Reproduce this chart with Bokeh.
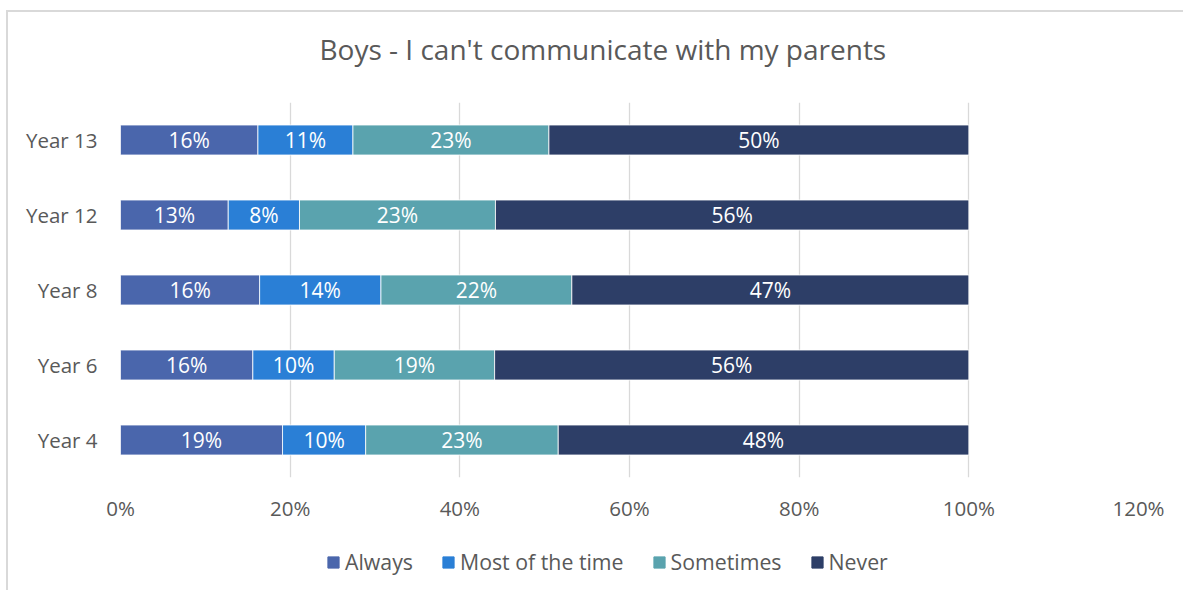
from bokeh.plotting import figure
from bokeh.layouts import column
from bokeh.models import (ColumnDataSource, FactorRange, Range1d, FixedTicker,
                          PrintfTickFormatter, Legend, LegendItem, Title)
from bokeh.core.properties import value
from bokeh.embed import file_html
from bokeh.resources import INLINE

# ---- data ----
title_text = "Boys - I can't communicate with my parents"
years = ["Year 4", "Year 6", "Year 8", "Year 12", "Year 13"]
series = ["Always", "Most of the time", "Sometimes", "Never"]
always = [19.1, 15.6, 16.4, 12.7, 16.2]
most = [9.8, 9.6, 14.3, 8.4, 11.2]
sometimes = [22.7, 18.9, 22.5, 23.1, 23.1]
never = [48.4, 55.9, 46.8, 55.8, 49.5]
x_ticks = [0, 20, 40, 60, 80, 100, 120]
colors = ["#4A66AC", "#2A7FD6", "#5AA3AE", "#2D3E67"]

FONT = "Open Sans"
GRAY = "#595959"
BORDER = "#D9D9D9"

keys = ["always", "most", "sometimes", "never"]
src = ColumnDataSource(dict(year=years, always=always, most=most,
                            sometimes=sometimes, never=never))

# ---------------- main chart ----------------
p = figure(width=1177, height=524, output_backend="svg", toolbar_location=None,
           y_range=FactorRange(*years), x_range=Range1d(0, 120),
           min_border_left=112, min_border_right=47, min_border_top=90,
           min_border_bottom=59)

renderers = p.hbar_stack(keys, y="year", height=0.4, color=colors,
                         line_color="white", line_width=0.8, source=src)

# data labels
lx, ly, lt = [], [], []
vals = [always, most, sometimes, never]
for i, y in enumerate(years):
    left = 0.0
    for v in vals:
        w = v[i]
        lx.append(left + w / 2)
        ly.append(y)
        lt.append("%d%%" % round(w))
        left += w
lsrc = ColumnDataSource(dict(x=lx, y=ly, t=lt))
p.text(x="x", y="y", text="t", source=lsrc, text_color="white", text_align="center",
       text_baseline="middle", text_font=value(FONT), text_font_size="21px")

# spacer between frame and title (keeps the title higher up)
p.add_layout(Title(text=" ", text_font_size="10px", standoff=20), "above")

# title
p.title.text = title_text
p.title.align = "left"
p.title.offset = 199
p.title.text_font = FONT
p.title.text_font_size = "28px"
p.title.text_font_style = "normal"
p.title.text_color = GRAY
p.title.standoff = 4

# axes
p.xaxis.ticker = FixedTicker(ticks=x_ticks)
p.xaxis.formatter = PrintfTickFormatter(format="%d%%")
for ax in (p.xaxis[0], p.yaxis[0]):
    ax.axis_line_color = None
    ax.major_tick_line_color = None
    ax.minor_tick_line_color = None
    ax.major_label_text_font = FONT
    ax.major_label_text_font_size = "20.5px"
    ax.major_label_text_color = GRAY
p.xaxis.major_label_standoff = 10
p.yaxis.major_label_standoff = 17

p.ygrid.grid_line_color = None
p.xgrid.grid_line_color = BORDER
p.xgrid.grid_line_width = 1.3
p.outline_line_color = None

# ---------------- legend strip ----------------
q = figure(width=1177, height=56, output_backend="svg", toolbar_location=None,
           x_range=Range1d(0, 1), y_range=Range1d(0, 1),
           min_border_left=0, min_border_right=0, min_border_top=0,
           min_border_bottom=0)
q.axis.visible = False
q.grid.visible = False
q.outline_line_color = None
lrs = [q.quad(left=[2], right=[3], bottom=[2], top=[3], color=c) for c in colors]

legend = Legend(items=[LegendItem(label=s, renderers=[r]) for s, r in zip(series, lrs)],
                orientation="horizontal", location=(206, 16))
legend.label_text_font = FONT
legend.label_text_font_size = "21.3px"
legend.label_text_color = GRAY
legend.glyph_width = 14
legend.glyph_height = 14
legend.spacing = 28
legend.label_standoff = 5
legend.border_line_color = None
legend.background_fill_alpha = 0
legend.margin = 0
legend.padding = 0
q.add_layout(legend, "center")

layout = column(p, q, spacing=0)
layout.margin = (12, 0, 0, 8)
layout.styles = {"box-shadow": "-2px -2px 0 %s" % BORDER}
open("out.html", "w").write(file_html(layout, INLINE))
